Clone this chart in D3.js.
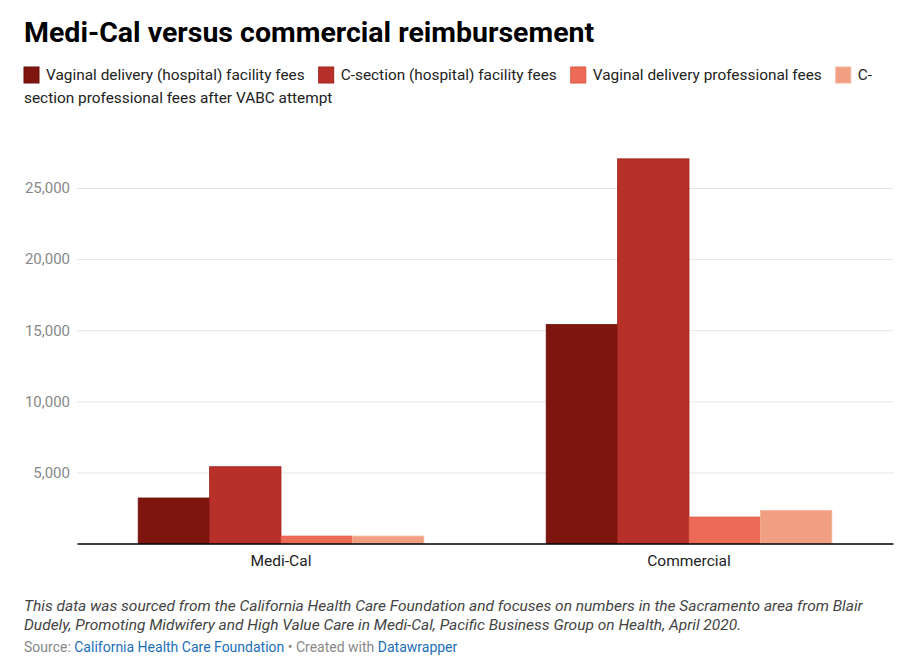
<!DOCTYPE html>
<html><head><meta charset="utf-8">
<script src="https://cdn.jsdelivr.net/npm/d3@7"></script>
<style>
body{margin:0;background:#fff;font-family:Roboto,"Noto Sans",sans-serif;}
</style></head>
<body><svg id="c" width="900" height="671"></svg>
<script>
const categories = ["Medi-Cal", "Commercial"];
const seriesNames = [
  "Vaginal delivery (hospital) facility fees",
  "C-section (hospital) facility fees",
  "Vaginal delivery professional fees",
  "C-section professional fees after VABC attempt"
];
const vaginalFacility = [3200, 15400];
const csectionFacility = [5400, 27050];
const vaginalProfessional = [520, 1860];
const csectionProfessional = [520, 2330];
const yTicks = [5000, 10000, 15000, 20000, 25000];
const colors = ["#7e150e", "#b7312a", "#ec6b57", "#f09f82"];
const strokes = ["#6a0f09", "#a4231c", "#e05540", "#f4b39c"];

const seriesValues = [vaginalFacility, csectionFacility, vaginalProfessional, csectionProfessional];
const svg = d3.select("#c");

svg.append("text").attr("x", 24).attr("y", 42)
  .attr("font-size", 28.5).attr("font-weight", 700).attr("fill", "#000")
  .text("Medi-Cal versus commercial reimbursement");

// legend
const lg = svg.append("g").attr("font-size", 15.4).attr("fill", "#222");
let lx = 24;
seriesNames.forEach((name, i) => {
  lg.append("rect").attr("x", lx).attr("y", 67).attr("width", 15).attr("height", 16)
    .attr("fill", colors[i]).attr("stroke", strokes[i]).attr("stroke-width", 1);
  if (i < 3) {
    const t = lg.append("text").attr("x", lx + 22).attr("y", 80).text(name);
    lx += 22 + t.node().getComputedTextLength() + 14;
  } else {
    lg.append("text").attr("x", lx + 22).attr("y", 80).text("C-");
    lg.append("text").attr("x", 24).attr("y", 103).text(name.slice(2));
  }
});

const x0 = 77, x1 = 893, yTop = 188, yBase = 543.5;
const x = d3.scaleBand().domain(categories).range([x0, x1]).paddingInner(0).paddingOuter(0);
const bw = x.bandwidth();
const xs = d3.scaleBand().domain(d3.range(4)).range([0.15 * bw, 0.85 * bw]).padding(0);
const y = d3.scaleLinear().domain([0, 25000]).range([yBase, yTop]);

// grid
const yAxis = d3.axisLeft(y).tickValues(yTicks).tickSize(-(x1 - x0)).tickFormat(d3.format(","));
const ga = svg.append("g").attr("transform", `translate(${x0},0)`).call(yAxis);
ga.select(".domain").remove();
ga.selectAll(".tick line").attr("stroke", "#e5e5e5").attr("stroke-width", 1);
ga.selectAll(".tick text").attr("x", -7).attr("fill", "#888").attr("font-size", 15)
  .attr("font-family", "Roboto,sans-serif");

// bars
const gb = svg.append("g");
categories.forEach((c, ci) => {
  seriesValues.forEach((vals, si) => {
    gb.append("rect")
      .attr("x", x(c) + xs(si)).attr("width", xs.bandwidth())
      .attr("y", y(vals[ci])).attr("height", yBase - y(vals[ci]))
      .attr("fill", colors[si]).attr("stroke", strokes[si]).attr("stroke-width", 0.8);
  });
});

// baseline + x axis
const xAxis = d3.axisBottom(x).tickSize(0).tickPadding(9);
const gx = svg.append("g").attr("transform", `translate(0,${yBase})`).call(xAxis);
gx.select(".domain").attr("stroke", "#000").attr("stroke-width", 1.3);
gx.selectAll(".tick text").attr("font-size", 15.5).attr("fill", "#222").attr("dy", "0.9em")
  .attr("font-family", "Roboto,sans-serif");

// footer
const ft = svg.append("g").attr("font-size", 15.5).attr("font-style", "italic").attr("fill", "#444");
ft.append("text").attr("x", 24).attr("y", 611)
  .text("This data was sourced from the California Health Care Foundation and focuses on numbers in the Sacramento area from Blair");
ft.append("text").attr("x", 24).attr("y", 630)
  .text("Dudely, Promoting Midwifery and High Value Care in Medi-Cal, Pacific Business Group on Health, April 2020.");
const src = svg.append("text").attr("x", 24).attr("y", 652).attr("font-size", 14).attr("fill", "#888");
src.append("tspan").text("Source: ");
src.append("tspan").attr("fill", "#1b6fb8").text("California Health Care Foundation");
src.append("tspan").text(" • Created with ");
src.append("tspan").attr("fill", "#1b6fb8").text("Datawrapper");
</script></body></html>
